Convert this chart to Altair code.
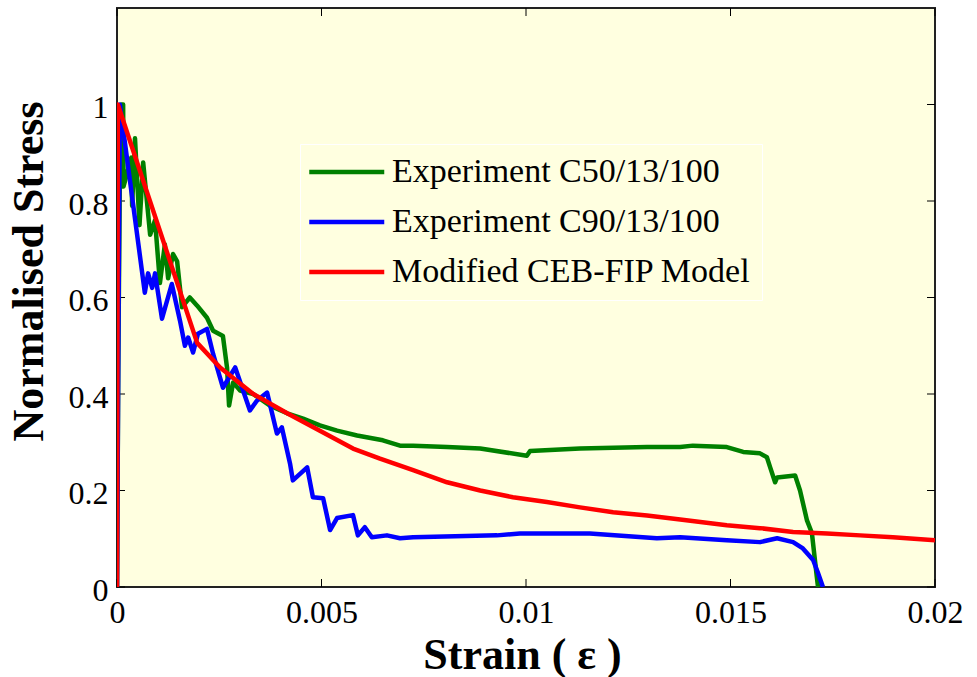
import altair as alt
import pandas as pd

SERIES = ["Experiment C50/13/100", "Experiment C90/13/100", "Modified CEB-FIP Model"]
COLORS = ["#008000", "#0000FF", "#FF0000"]

X_TICKS = [0, 0.005, 0.01, 0.015, 0.02]
Y_TICKS = [0, 0.2, 0.4, 0.6, 0.8, 1.0]

g_strain = [0, 0.00003, 0.00007, 0.00011, 0.00015, 0.00016, 0.00035, 0.00037, 0.00044, 0.00055,
            0.00064, 0.00081, 0.00093, 0.00105, 0.00117, 0.00125, 0.00137, 0.00147, 0.00159, 0.00178,
            0.00196, 0.0022, 0.00235, 0.00259, 0.00269, 0.00274, 0.00284, 0.00301, 0.00333, 0.00374,
            0.00416, 0.00455, 0.00496, 0.00538, 0.00587, 0.0065, 0.00692, 0.00724, 0.00807, 0.00888,
            0.01002, 0.0101, 0.01132, 0.01296, 0.01377, 0.01408, 0.01491, 0.01531, 0.01572, 0.01589,
            0.01597, 0.01609, 0.01614, 0.01658, 0.0167, 0.01687, 0.01699, 0.01711, 0.01714]
g_stress = [0, 0.45, 0.85, 1.0, 1.0, 0.83, 0.89, 0.79, 0.93, 0.75,
            0.88, 0.73, 0.76, 0.63, 0.71, 0.64, 0.69, 0.675, 0.58, 0.60,
            0.583, 0.558, 0.531, 0.52, 0.455, 0.376, 0.424, 0.407, 0.40, 0.376,
            0.36, 0.349, 0.335, 0.324, 0.314, 0.304, 0.293, 0.293, 0.29, 0.287,
            0.272, 0.282, 0.287, 0.29, 0.29, 0.293, 0.29, 0.28, 0.277, 0.269,
            0.248, 0.217, 0.227, 0.231, 0.2, 0.138, 0.112, 0.021, 0.0]

b_strain = [0, 0.00004, 0.00007, 0.00068, 0.00076, 0.00086, 0.00093, 0.0011, 0.00134, 0.00154,
            0.00166, 0.00174, 0.00186, 0.00198, 0.0022, 0.00235, 0.00259, 0.00289, 0.00325, 0.00342,
            0.00367, 0.00391, 0.00403, 0.00423, 0.0043, 0.00465, 0.00479, 0.00504, 0.00521, 0.00538,
            0.00577, 0.00589, 0.00606, 0.00623, 0.0066, 0.00692, 0.00724, 0.00929, 0.00985, 0.01156,
            0.0132, 0.01377, 0.01491, 0.01572, 0.01614, 0.01653, 0.01677, 0.01702, 0.01714, 0.01726]
b_stress = [0, 0.6, 1.0, 0.61, 0.65, 0.62, 0.65, 0.556, 0.628, 0.552,
            0.50, 0.517, 0.486, 0.525, 0.535, 0.483, 0.413, 0.455, 0.366, 0.386,
            0.403, 0.318, 0.331, 0.256, 0.221, 0.248, 0.186, 0.184, 0.118, 0.143,
            0.149, 0.107, 0.124, 0.103, 0.107, 0.101, 0.103, 0.107, 0.111, 0.111,
            0.101, 0.103, 0.097, 0.093, 0.101, 0.093, 0.08, 0.056, 0.029, 0.0]

r_strain = [0, 0.00002, 0.00196, 0.00252, 0.00333, 0.00416, 0.00496, 0.00577, 0.00643, 0.00724,
            0.00807, 0.00888, 0.00968, 0.01051, 0.01132, 0.01213, 0.01296, 0.01377, 0.01491, 0.01572,
            0.01653, 0.01736, 0.01817, 0.01897, 0.02]
r_stress = [0, 1.0, 0.506, 0.455, 0.40, 0.36, 0.324, 0.287, 0.266, 0.242,
            0.217, 0.20, 0.186, 0.176, 0.165, 0.155, 0.148, 0.14, 0.128, 0.122,
            0.114, 0.111, 0.107, 0.103, 0.097]

rows = []
for name, xs, ys in zip(SERIES, [g_strain, b_strain, r_strain], [g_stress, b_stress, r_stress]):
    for i, (x, y) in enumerate(zip(xs, ys)):
        rows.append({"series": name, "strain": x, "stress": y, "idx": i})
df = pd.DataFrame(rows)

FONT = "Liberation Serif"

xscale = alt.Scale(domain=[0, 0.02], nice=False, zero=False)
yscale = alt.Scale(domain=[0, 1.2], nice=False, zero=False)

xaxis = alt.Axis(values=X_TICKS, format="~g", title="Strain ( ε )", grid=False, ticks=False,
                 domain=False, labelFont=FONT, labelFontSize=32, labelPadding=10,
                 labelColor="black", labelFlush=False, titleFont=FONT, titleFontSize=44,
                 titleFontWeight="bold", titleColor="black", titleX=405, titleY=81,
                 titleBaseline="alphabetic", titleAlign="center")
yaxis = alt.Axis(values=Y_TICKS, format="~g", title="Normalised Stress", grid=False, ticks=False,
                 domain=False, labelFont=FONT, labelFontSize=32, labelPadding=9,
                 labelColor="black", labelFlush=False, labelOffset=3, titleFont=FONT,
                 titleFontSize=44, titleFontWeight="bold", titleColor="black", titleX=-75,
                 titleY=263, titleAngle=270, titleBaseline="alphabetic", titleAlign="center")

X = alt.X("strain:Q", scale=xscale, axis=xaxis)
Y = alt.Y("stress:Q", scale=yscale, axis=yaxis)

legend = alt.Legend(title=None, orient="none", legendX=183, legendY=136, direction="vertical",
                    symbolType="M-1.5,0L4.5,0", symbolSize=625, symbolStrokeWidth=4.5,
                    labelFont=FONT, labelFontSize=34, labelColor="black", labelOffset=47,
                    labelLimit=500, rowPadding=16, padding=11, fillColor="#FFFFE0",
                    strokeColor="white")
color = alt.Color("series:N", scale=alt.Scale(domain=SERIES, range=COLORS), legend=legend)

xt = pd.DataFrame({"strain": X_TICKS})
yt = pd.DataFrame({"stress": Y_TICKS})
tick_bottom = alt.Chart(xt).mark_rule(color="black", strokeWidth=1).encode(
    x=X, y=alt.value(579), y2=alt.value(571))
tick_top = alt.Chart(xt).mark_rule(color="black", strokeWidth=1).encode(
    x=X, y=alt.value(0), y2=alt.value(8))
tick_left = alt.Chart(yt).mark_rule(color="black", strokeWidth=1).encode(
    y=Y, x=alt.value(0), x2=alt.value(8))
tick_right = alt.Chart(yt).mark_rule(color="black", strokeWidth=1).encode(
    y=Y, x=alt.value(818), x2=alt.value(810))


def line(name):
    return alt.Chart(df).transform_filter(alt.datum.series == name).mark_line(
        strokeWidth=4.5, strokeJoin="round", clip=True).encode(
        x=X, y=Y, color=color, order="idx:Q")


chart = alt.layer(
    tick_bottom, tick_top, tick_left, tick_right,
    line(SERIES[0]), line(SERIES[1]), line(SERIES[2])
).properties(
    width=818, height=579,
    autosize=alt.AutoSizeParams(type="none"),
    padding={"left": 117, "top": 8, "right": 42, "bottom": 90},
    background="white",
).configure_view(fill="#FFFFE0", stroke="#222222", strokeWidth=2)

chart.save("out.html", embed_options={"renderer": "svg", "actions": False})
